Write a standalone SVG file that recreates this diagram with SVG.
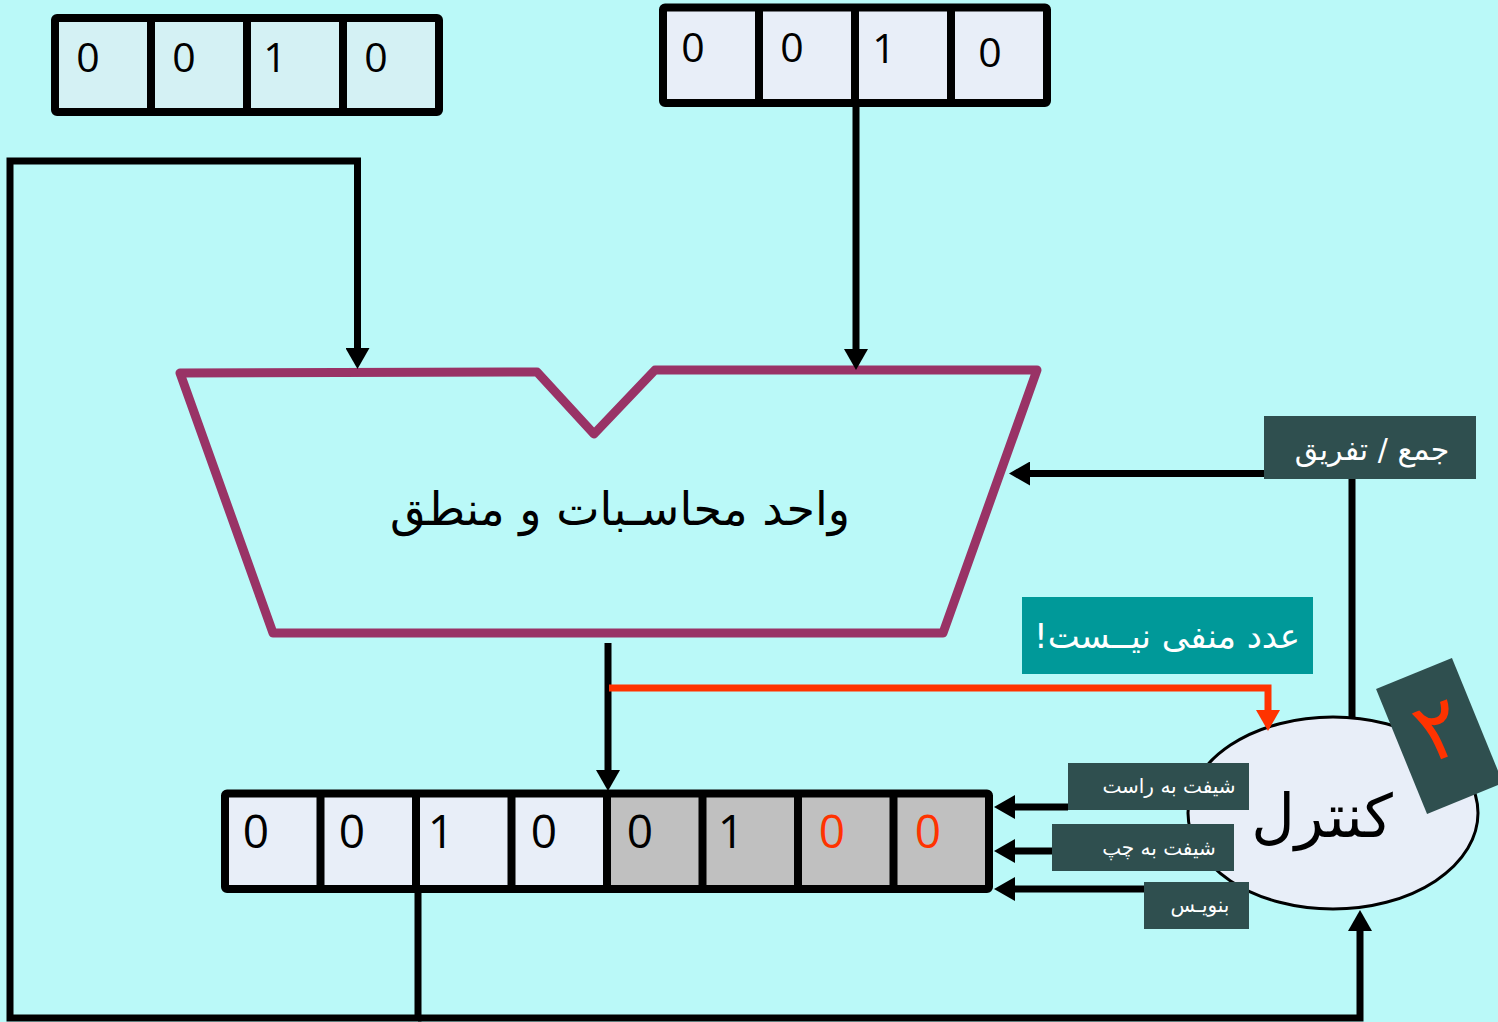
<svg xmlns="http://www.w3.org/2000/svg" width="1498" height="1022" viewBox="0 0 1498 1022">
<defs>
<style>
.bg{fill:#BAF9F8}
.reg{fill:none;stroke:#000;stroke-width:8;stroke-linejoin:round}
.div{stroke:#000;stroke-width:8}
.c1{fill:#D4F1F4}
.c2{fill:#E8EEF8}
.c3{fill:#C0C0C0}
.dig{font-family:'Open Sans','DejaVu Sans',sans-serif;fill:#000;text-anchor:middle}
.red{fill:#FF3300}
.wire{fill:none;stroke:#000;stroke-width:7;stroke-linejoin:miter}
.rwire{fill:none;stroke:#FF3300;stroke-width:7;stroke-linejoin:miter}
.fa{font-family:'DejaVu Sans',sans-serif;text-anchor:middle}
.lab{fill:#2F4F4F}
.wt{fill:#fff}
</style>
<marker id="ah" markerUnits="userSpaceOnUse" markerWidth="21" markerHeight="24" viewBox="0 0 21 24" refX="0" refY="12" orient="auto"><path d="M0,0 L21,12 L0,24 z" fill="#000"/></marker>
<marker id="ahr" markerUnits="userSpaceOnUse" markerWidth="21" markerHeight="24" viewBox="0 0 21 24" refX="0" refY="12" orient="auto"><path d="M0,0 L21,12 L0,24 z" fill="#FF3300"/></marker>
</defs>
<rect class="bg" x="0" y="0" width="1498" height="1022"/>

<g id="reg-top-left">
<rect class="c1" x="55" y="18" width="384" height="94"/>
<rect class="reg" x="55" y="18" width="384" height="94" rx="2"/>
<line class="div" x1="151" y1="18" x2="151" y2="112"/>
<line class="div" x1="247" y1="18" x2="247" y2="112"/>
<line class="div" x1="343" y1="18" x2="343" y2="112"/>
<text class="dig" font-size="41" x="88" y="72">0</text>
<text class="dig" font-size="41" x="184" y="72">0</text>
<text class="dig" font-size="41" x="275" y="72">1</text>
<text class="dig" font-size="41" x="376" y="72">0</text>
</g>

<g id="reg-top-right">
<rect class="c2" x="663" y="7.5" width="384" height="95.5"/>
<rect class="reg" x="663" y="7.5" width="384" height="95.5" rx="2"/>
<line class="div" x1="759" y1="7.5" x2="759" y2="103"/>
<line class="div" x1="855" y1="7.5" x2="855" y2="103"/>
<line class="div" x1="951" y1="7.5" x2="951" y2="103"/>
<text class="dig" font-size="41" x="693" y="62">0</text>
<text class="dig" font-size="41" x="792" y="62">0</text>
<text class="dig" font-size="41" x="884" y="63">1</text>
<text class="dig" font-size="41" x="990" y="67">0</text>
</g>

<g id="alu">
<path d="M180,373 L537,372 L594,434 L655,370 L1037,370 L943,633 L273,633 Z" fill="none" stroke="#993366" stroke-width="9" stroke-linejoin="round"/>
<text class="fa" direction="rtl" font-size="46" x="620" y="525" fill="#000">واحد محاسـبات و منطق</text>
</g>

<g id="reg-bottom">
<rect class="c2" x="225" y="793.5" width="382" height="95.5"/>
<rect class="c3" x="607" y="793.5" width="382" height="95.5"/>
<rect class="reg" x="225" y="793.5" width="764" height="95.5" rx="2"/>
<line class="div" x1="320.5" y1="793.5" x2="320.5" y2="889"/>
<line class="div" x1="416" y1="793.5" x2="416" y2="889"/>
<line class="div" x1="511.5" y1="793.5" x2="511.5" y2="889"/>
<line class="div" x1="607" y1="793.5" x2="607" y2="889"/>
<line class="div" x1="702.5" y1="793.5" x2="702.5" y2="889"/>
<line class="div" x1="798" y1="793.5" x2="798" y2="889"/>
<line class="div" x1="893.5" y1="793.5" x2="893.5" y2="889"/>
<text class="dig" font-size="46" x="256" y="848">0</text>
<text class="dig" font-size="46" x="352" y="848">0</text>
<text class="dig" font-size="46" x="441" y="848">1</text>
<text class="dig" font-size="46" x="544" y="848">0</text>
<text class="dig" font-size="46" x="640" y="848">0</text>
<text class="dig" font-size="46" x="731" y="848">1</text>
<text class="dig red" font-size="46" x="832" y="848">0</text>
<text class="dig red" font-size="46" x="928" y="848">0</text>
</g>

<g id="control">
<ellipse cx="1333" cy="813" rx="145" ry="96" fill="#E8EEF8" stroke="#000" stroke-width="3"/>
<text class="fa" direction="rtl" font-size="60" x="1322" y="837" fill="#000">کنترل</text>
</g>

<g id="connectors">
<path class="wire" d="M856,103 V349" marker-end="url(#ah)"/>
<path class="wire" d="M418,893 V1018 H10 V161 H357.5 V348" marker-end="url(#ah)"/>
<path class="wire" d="M418,1018 H1360 V931" marker-end="url(#ah)"/>
<path class="wire" d="M608,643 V770" marker-end="url(#ah)"/>
<path class="rwire" d="M609,688 H1268 V710" marker-end="url(#ahr)"/>
<path class="wire" d="M1264,473.5 H1030" marker-end="url(#ah)"/>
<path class="wire" d="M1352,479 V718"/>
<path class="wire" d="M1068,807 H1015" marker-end="url(#ah)"/>
<path class="wire" d="M1052,851 H1015" marker-end="url(#ah)"/>
<path class="wire" d="M1144,889 H1015" marker-end="url(#ah)"/>
</g>

<g id="label-addsub">
<rect class="lab" x="1264" y="416" width="212" height="63"/>
<text class="fa wt" direction="rtl" font-size="30" x="1372" y="460">جمع / تفریق</text>
</g>

<g id="label-notneg">
<rect x="1022" y="597" width="291" height="77" fill="#009999"/>
<text class="fa wt" direction="rtl" font-size="34" x="1167" y="648">عدد منفی نیــست!</text>
</g>

<g id="label-shr">
<rect class="lab" x="1068" y="763" width="181" height="47"/>
<text class="fa wt" direction="rtl" font-size="20" x="1169" y="793">شیفت به راست</text>
</g>

<g id="label-shl">
<rect class="lab" x="1052" y="824" width="182" height="47"/>
<text class="fa wt" direction="rtl" font-size="20" x="1159" y="855">شیفت به چپ</text>
</g>

<g id="label-write">
<rect class="lab" x="1144" y="882" width="105" height="47"/>
<text class="fa wt" direction="rtl" font-size="20" x="1200" y="912">بنویـس</text>
</g>

<g id="badge-2" transform="translate(1439.5,736) rotate(-22.2)">
<rect class="lab" x="-41" y="-67.5" width="82" height="135"/>
<text class="fa red" font-size="84" x="2" y="22">۲</text>
</g>
</svg>
